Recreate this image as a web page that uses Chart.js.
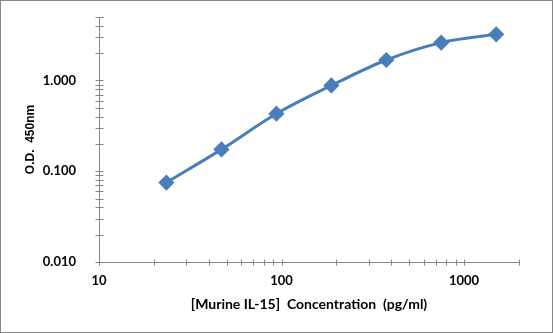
<!DOCTYPE html>
<html>
<head>
<meta charset="utf-8">
<script src="https://cdn.jsdelivr.net/npm/chart.js@4.4.1/dist/chart.umd.min.js"></script>
<style>
  html, body { margin: 0; padding: 0; background: #fff; }
  #wrap { width: 553px; height: 333px; }
</style>
</head>
<body>
<div id="wrap"><canvas id="elisa-chart" width="553" height="333"></canvas></div>
<script>
// standard curve, doubling dilutions
var concentrations = [23.4, 46.9, 93.75, 187.5, 375, 750, 1500];
var odValues = [0.075, 0.174, 0.43, 0.88, 1.68, 2.61, 3.22];

var xMajorTicks = [10, 100, 1000];
var xMinorTicks = [20, 30, 40, 50, 60, 70, 80, 90, 200, 300, 400, 500, 600, 700, 800, 900, 2000];
var yMajorTicks = [0.01, 0.1, 1];
var yMinorTicks = [0.02, 0.03, 0.04, 0.05, 0.06, 0.07, 0.08, 0.09, 0.2, 0.3, 0.4, 0.5, 0.6, 0.7, 0.8, 0.9, 2, 3, 4, 5];

var lineColor = '#4a7ebb';
var axisColor = '#868686';

// axis lines with ticks crossing the line, like the spreadsheet original
var axisPlugin = {
    id: 'axisPlugin',
    afterDraw: function (chart) {
        var c = chart.ctx;
        var area = chart.chartArea;
        var xs = chart.scales.x, ys = chart.scales.y;
        c.save();
        c.strokeStyle = axisColor;
        c.lineWidth = 1;
        c.beginPath();
        var ax = Math.round(area.left) + 0.5;
        var ay = Math.round(area.bottom) + 0.5;
        c.moveTo(ax, area.top);
        c.lineTo(ax, ay);
        c.lineTo(area.right, ay);
        xMajorTicks.concat(xMinorTicks).forEach(function (v) {
            var px = Math.round(xs.getPixelForValue(v)) + 0.5;
            c.moveTo(px, ay - 3);
            c.lineTo(px, ay + 3);
        });
        yMajorTicks.concat(yMinorTicks).forEach(function (v) {
            var py = Math.round(ys.getPixelForValue(v)) + 0.5;
            c.moveTo(ax - 4, py);
            c.lineTo(ax + 4, py);
        });
        c.stroke();
        // outer chart border
        c.strokeRect(0.5, 0.5, chart.width - 1, chart.height - 1);
        c.restore();
    }
};

var ctx = document.getElementById('elisa-chart').getContext('2d');

var config = {
    type: 'line',
    data: {
        datasets: [{
            label: 'Standard',
            data: concentrations.map(function (x, i) { return { x: x, y: odValues[i] }; }),
            borderColor: lineColor,
            backgroundColor: lineColor,
            borderWidth: 3,
            pointStyle: 'rectRot',
            pointRadius: 6,
            pointHoverRadius: 6,
            tension: 0.35,
            fill: false
        }]
    },
    options: {
        responsive: false,
        animation: false,
        devicePixelRatio: 1,
        layout: { padding: { top: 17, right: 34, bottom: 0, left: 0 } },
        plugins: {
            legend: { display: false },
            tooltip: { enabled: false }
        },
        scales: {
            x: {
                type: 'logarithmic',
                min: 10,
                max: 2000,
                grid: { display: false },
                border: { display: false },
                afterBuildTicks: function (scale) {
                    scale.ticks = xMajorTicks.map(function (v) { return { value: v }; });
                },
                afterFit: function (scale) {
                    scale.height = 71;
                    scale.paddingLeft = 0;
                    scale.paddingRight = 0;
                },
                ticks: {
                    autoSkip: false,
                    maxRotation: 0,
                    padding: 3,
                    color: '#000',
                    font: { family: 'Lato', weight: 'bold', size: 13 },
                    callback: function (v) { return String(v); }
                },
                title: {
                    display: true,
                    text: '[Murine IL-15]  Concentration  (pg/ml)',
                    color: '#000',
                    font: { family: 'Lato', weight: 'bold', size: 14 },
                    padding: { top: 0, bottom: 20 }
                }
            },
            y: {
                type: 'logarithmic',
                min: 0.01,
                max: 5,
                grid: { display: false },
                border: { display: false },
                afterBuildTicks: function (scale) {
                    scale.ticks = yMajorTicks.map(function (v) { return { value: v }; });
                },
                afterFit: function (scale) {
                    scale.width = 99;
                    scale.paddingTop = 0;
                    scale.paddingBottom = 0;
                },
                ticks: {
                    autoSkip: false,
                    padding: 15,
                    color: '#000',
                    font: { family: 'Lato', weight: 'bold', size: 13 },
                    callback: function (v) { return Number(v).toFixed(3); }
                },
                title: {
                    display: true,
                    text: 'O.D.  450nm',
                    color: '#000',
                    font: { family: 'Liberation Sans', weight: 'bold', size: 12 },
                    padding: { top: 23, bottom: 0 }
                }
            }
        }
    },
    plugins: [axisPlugin]
};

var chart = new Chart(ctx, config);
</script>
</body>
</html>
